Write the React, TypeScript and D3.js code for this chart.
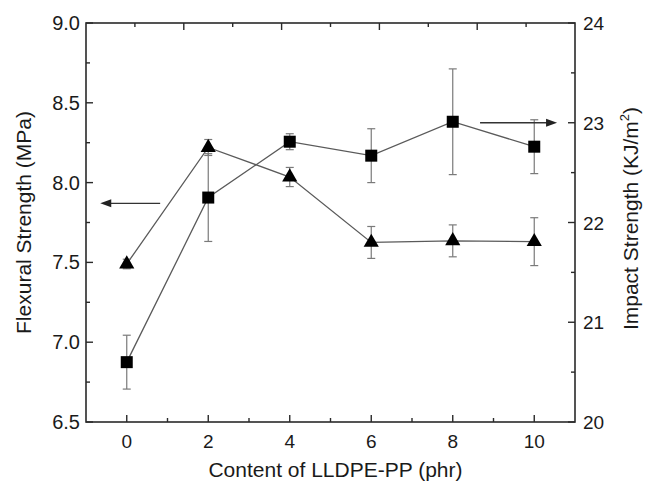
import React, { useRef, useEffect } from 'react';
import * as d3 from 'd3';

// content of LLDPE-PP (phr)
const contents = [0, 2, 4, 6, 8, 10];
// flexural strength (MPa), left axis, triangles
const flexural = [7.49, 8.22, 8.035, 7.625, 7.635, 7.63];
const flexuralErr = [0.03, 0.05, 0.06, 0.1, 0.1, 0.15];
// impact strength (KJ/m2), right axis, squares
const impact = [20.6, 22.25, 22.81, 22.67, 23.01, 22.76];
const impactErr = [0.27, 0.44, 0.08, 0.27, 0.53, 0.27];

const xMajor = [0, 2, 4, 6, 8, 10];
const xMinor = [1, 3, 5, 7, 9];
const topMajor = [2, 4, 6, 8];
const topMinor = [1, 3, 5, 7, 9];
const leftMajor = [6.5, 7.0, 7.5, 8.0, 8.5, 9.0];
const leftMinor = [6.75, 7.25, 7.75, 8.25, 8.75];
const rightMajor = [20, 21, 22, 23, 24];
const rightMinor = [20.5, 21.5, 22.5, 23.5];

const FONT = '"Liberation Sans", Arial, Helvetica, sans-serif';

const App = () => {
  const ref = useRef(null);

  useEffect(() => {
    const width = 646;
    const height = 482;
    const m = { top: 23, right: 71, bottom: 60, left: 86 };
    const x0 = m.left, x1 = width - m.right, y0 = m.top, y1 = height - m.bottom;

    const svg = d3.select(ref.current);
    svg.selectAll('*').remove();

    const x = d3.scaleLinear().domain([-1, 11]).range([x0, x1]);
    const xTop = d3.scaleLinear().domain([0, 10]).range([x0, x1]);
    const yL = d3.scaleLinear().domain([6.5, 9.0]).range([y1, y0]);
    const yR = d3.scaleLinear().domain([20, 24]).range([y1, y0]);

    const axisColor = '#2a2a2a';
    const major = 7, minor = 4;

    // frame
    svg.append('rect')
      .attr('x', x0).attr('y', y0)
      .attr('width', x1 - x0).attr('height', y1 - y0)
      .attr('fill', 'none').attr('stroke', axisColor).attr('stroke-width', 1.6);

    const ticks = svg.append('g').attr('stroke', axisColor).attr('stroke-width', 1.4);
    // bottom
    xMajor.forEach(v => ticks.append('line').attr('x1', x(v)).attr('x2', x(v)).attr('y1', y1).attr('y2', y1 - major));
    xMinor.forEach(v => ticks.append('line').attr('x1', x(v)).attr('x2', x(v)).attr('y1', y1).attr('y2', y1 - minor));
    // top (its own scale, as in the figure)
    topMajor.forEach(v => ticks.append('line').attr('x1', xTop(v)).attr('x2', xTop(v)).attr('y1', y0).attr('y2', y0 + major));
    topMinor.forEach(v => ticks.append('line').attr('x1', xTop(v)).attr('x2', xTop(v)).attr('y1', y0).attr('y2', y0 + minor));
    // left
    leftMajor.forEach(v => ticks.append('line').attr('x1', x0).attr('x2', x0 + major).attr('y1', yL(v)).attr('y2', yL(v)));
    leftMinor.forEach(v => ticks.append('line').attr('x1', x0).attr('x2', x0 + minor).attr('y1', yL(v)).attr('y2', yL(v)));
    // right
    rightMajor.forEach(v => ticks.append('line').attr('x1', x1).attr('x2', x1 - major).attr('y1', yR(v)).attr('y2', yR(v)));
    rightMinor.forEach(v => ticks.append('line').attr('x1', x1).attr('x2', x1 - minor).attr('y1', yR(v)).attr('y2', yR(v)));

    // tick labels
    const labels = svg.append('g').attr('font-family', FONT).attr('fill', '#1a1a1a');
    xMajor.forEach(v => labels.append('text')
      .attr('x', x(v)).attr('y', y1 + 26).attr('text-anchor', 'middle')
      .attr('font-size', 19).text(d3.format('d')(v)));
    leftMajor.forEach(v => labels.append('text')
      .attr('x', x0 - 6).attr('y', yL(v) + 7).attr('text-anchor', 'end')
      .attr('font-size', 20).text(d3.format('.1f')(v)));
    rightMajor.forEach(v => labels.append('text')
      .attr('x', x1 + 8).attr('y', yR(v) + 7).attr('text-anchor', 'start')
      .attr('font-size', 19).text(d3.format('d')(v)));

    // axis titles
    labels.append('text')
      .attr('x', (x0 + x1) / 2 + 5).attr('y', 477).attr('text-anchor', 'middle')
      .attr('font-size', 21).text('Content of LLDPE-PP (phr)');
    labels.append('text')
      .attr('transform', `translate(31, ${(y0 + y1) / 2}) rotate(-90)`)
      .attr('text-anchor', 'middle').attr('font-size', 21)
      .text('Flexural Strength (MPa)');
    const rt = labels.append('text')
      .attr('transform', `translate(638, ${(y0 + y1) / 2 - 4}) rotate(-90)`)
      .attr('text-anchor', 'middle').attr('font-size', 21);
    rt.append('tspan').text('Impact Strength (KJ/m');
    rt.append('tspan').attr('dy', -9).attr('font-size', 13).text('2');
    rt.append('tspan').attr('dy', 9).text(')');

    const lineColor = '#5a5a5a';
    const errColor = '#7a7a7a';
    const cap = 4;

    // connecting lines
    svg.append('path')
      .datum(contents.map((c, i) => [c, flexural[i]]))
      .attr('fill', 'none').attr('stroke', lineColor).attr('stroke-width', 1.3)
      .attr('d', d3.line().x(d => x(d[0])).y(d => yL(d[1])));
    svg.append('path')
      .datum(contents.map((c, i) => [c, impact[i]]))
      .attr('fill', 'none').attr('stroke', lineColor).attr('stroke-width', 1.3)
      .attr('d', d3.line().x(d => x(d[0])).y(d => yR(d[1])));

    // error bars
    const drawErr = (vals, errs, yScale) => {
      const g = svg.append('g').attr('stroke', errColor).attr('stroke-width', 1.2);
      contents.forEach((c, i) => {
        const cx = x(c);
        const top = yScale(vals[i] + errs[i]);
        const bot = yScale(vals[i] - errs[i]);
        g.append('line').attr('x1', cx).attr('x2', cx).attr('y1', top).attr('y2', bot);
        g.append('line').attr('x1', cx - cap).attr('x2', cx + cap).attr('y1', top).attr('y2', top);
        g.append('line').attr('x1', cx - cap).attr('x2', cx + cap).attr('y1', bot).attr('y2', bot);
      });
    };
    drawErr(flexural, flexuralErr, yL);
    drawErr(impact, impactErr, yR);

    // markers
    svg.append('g').selectAll('path')
      .data(contents.map((c, i) => [c, flexural[i]]))
      .enter().append('path')
      .attr('transform', d => `translate(${x(d[0])}, ${yL(d[1])})`)
      .attr('d', d3.symbol().type(d3.symbolTriangle).size(100)())
      .attr('fill', '#000');
    svg.append('g').selectAll('rect')
      .data(contents.map((c, i) => [c, impact[i]]))
      .enter().append('rect')
      .attr('x', d => x(d[0]) - 6).attr('y', d => yR(d[1]) - 6)
      .attr('width', 12).attr('height', 12)
      .attr('fill', '#000');

    // arrows pointing to the axis each series belongs to
    const arrow = (xa, xb, yy) => {
      const dir = Math.sign(xb - xa);
      svg.append('line')
        .attr('x1', xa).attr('x2', xb - dir * 8).attr('y1', yy).attr('y2', yy)
        .attr('stroke', '#333').attr('stroke-width', 1.4);
      svg.append('path')
        .attr('d', `M${xb},${yy} L${xb - dir * 11},${yy - 4} L${xb - dir * 11},${yy + 4} Z`)
        .attr('fill', '#222');
    };
    arrow(x(0.82), x(-0.65), yL(7.87));
    arrow(x(8.67), x(10.56), yR(23.0));
  }, []);

  return (
    <svg ref={ref} width={646} height={482}
      style={{ position: 'absolute', left: 0, top: 0, background: '#fff' }} />
  );
};

export default App;
